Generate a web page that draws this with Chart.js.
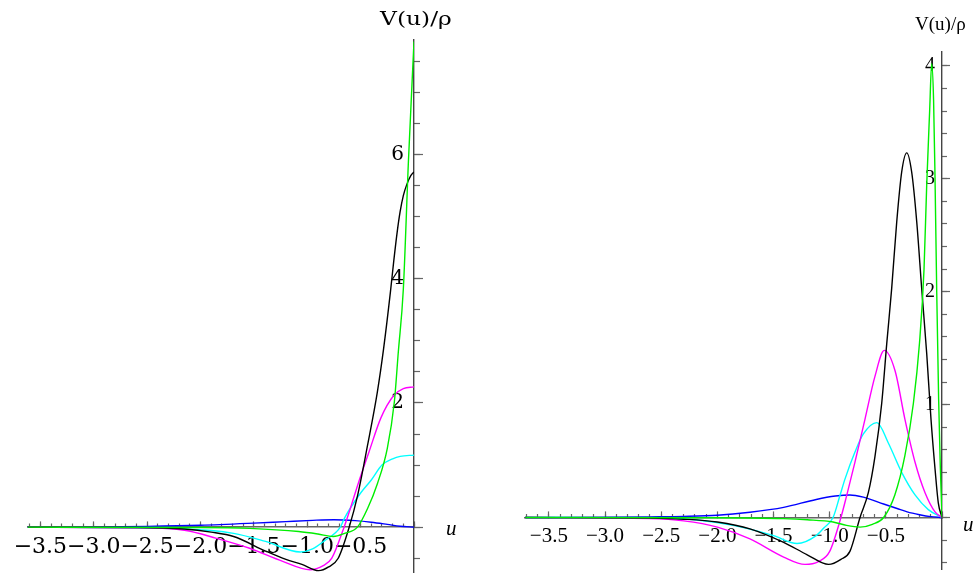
<!DOCTYPE html>
<html>
<head>
<meta charset="utf-8">
<script src="https://cdn.jsdelivr.net/npm/chart.js@4.4.0/dist/chart.umd.min.js"></script>
<style>
  body { margin: 0; background: #fff; width: 980px; height: 574px; overflow: hidden; position: relative; }
  canvas { position: absolute; top: 0; }
  #cL { left: 0; }
  #cR { left: 500px; }
  .lbl { position: absolute; white-space: nowrap; color: #000; }
  .ylab1 { left: 380px; top: 8px; font: 18px "DejaVu Serif"; transform: scaleX(1.3); transform-origin: left; }
  .ylab2 { left: 915px; top: 13px; font: 19px "Liberation Serif"; }
  .xl1 { left: 446px; top: 516px; font: italic 21px "Liberation Serif"; }
  .xl2 { left: 963px; top: 512px; font: italic 21px "Liberation Serif"; }
</style>
</head>
<body>
<canvas id="cL" width="470" height="574"></canvas>
<canvas id="cR" width="480" height="574"></canvas>
<div class="lbl ylab1">V(u)/ρ</div>
<div class="lbl ylab2">V(u)/ρ</div>
<div class="lbl xl1">u</div>
<div class="lbl xl2">u</div>
<script>
// ---- left panel, values ----
const uBlackL = [-3.62, -2.6, -2.15, -1.9, -1.69, -1.39, -1.2, -1.05, -0.894, -0.8, -0.71, -0.607, -0.527, -0.435, -0.343, -0.285, -0.22, -0.19, -0.16, -0.13, -0.1, -0.067, -0.03, 0];
const vBlackL = [0, -0.005, -0.03, -0.08, -0.15, -0.385, -0.52, -0.6, -0.7, -0.64, -0.5, 0, 0.52, 1.32, 2.18, 2.87, 3.8, 4.28, 4.72, 5.08, 5.34, 5.52, 5.66, 5.72];
const uMagentaL = [-3.62, -2.6, -2.15, -1.85, -1.54, -1.23, -0.975, -0.85, -0.77, -0.655, -0.6, -0.527, -0.42, -0.31, -0.19, -0.1, 0];
const vMagentaL = [0, -0.01, -0.05, -0.18, -0.34, -0.55, -0.685, -0.62, -0.5, 0, 0.28, 0.68, 1.22, 1.76, 2.12, 2.23, 2.26];
const uCyanL = [-3.62, -2.15, -1.69, -1.39, -1.066, -0.95, -0.84, -0.69, -0.65, -0.5, -0.4, -0.3, -0.2, -0.129, 0];
const vCyanL = [0, -0.03, -0.1, -0.23, -0.4, -0.35, -0.22, 0, 0.15, 0.55, 0.76, 1.0, 1.1, 1.14, 1.16];
const uGreenL = [-3.62, -2.0, -1.54, -1.08, -0.9, -0.756, -0.65, -0.53, -0.435, -0.343, -0.25, -0.184, -0.147, -0.1, -0.052, 0];
const vGreenL = [0, -0.005, -0.02, -0.07, -0.11, -0.15, -0.1, 0, 0.3, 0.7, 1.27, 2.02, 2.82, 3.83, 5.9, 7.82];
const uBlueL = [-3.62, -3.0, -2.5, -2.0, -1.5, -1.2, -0.95, -0.75, -0.55, -0.4, -0.25, -0.13, 0];
const vBlueL = [0, 0.004, 0.012, 0.03, 0.065, 0.09, 0.11, 0.12, 0.105, 0.08, 0.045, 0.015, 0];

// ---- right panel ----
const uBlackR = [-3.71, -2.6, -2.3, -2.0, -1.71, -1.41, -1.2, -1.01, -0.9, -0.82, -0.73, -0.656, -0.597, -0.537, -0.492, -0.448, -0.403, -0.359, -0.314, -0.27, -0.225, -0.181, -0.136, -0.098, -0.062, -0.033, 0];
const vBlackR = [0, -0.005, -0.015, -0.04, -0.1, -0.22, -0.33, -0.415, -0.37, -0.3, 0, 0.22, 0.54, 1.01, 1.54, 2.03, 2.62, 3.06, 3.23, 3.06, 2.62, 2.03, 1.45, 0.87, 0.43, 0.13, 0];
const uMagentaR = [-3.71, -2.6, -2.3, -2.0, -1.71, -1.41, -1.22, -1.1, -1.0, -0.9, -0.85, -0.775, -0.686, -0.597, -0.514, -0.418, -0.33, -0.24, -0.151, -0.062, 0];
const vMagentaR = [0, -0.01, -0.03, -0.085, -0.19, -0.35, -0.415, -0.39, -0.3, 0, 0.19, 0.49, 0.87, 1.25, 1.48, 1.3, 0.87, 0.49, 0.22, 0.05, 0];
const uCyanR = [-3.71, -2.5, -2.2, -1.86, -1.5, -1.29, -1.12, -1.05, -0.97, -0.91, -0.864, -0.775, -0.7, -0.58, -0.478, -0.359, -0.24, -0.122, 0];
const vCyanR = [0, -0.005, -0.02, -0.07, -0.16, -0.23, -0.16, -0.09, 0, 0.19, 0.34, 0.58, 0.74, 0.84, 0.66, 0.4, 0.2, 0.07, 0];
const uGreenR = [-3.71, -2.0, -1.41, -1.2, -0.97, -0.85, -0.73, -0.62, -0.52, -0.42, -0.33, -0.255, -0.2, -0.16, -0.136, -0.11, -0.092, -0.075, -0.062, -0.047, -0.03, -0.015, 0];
const vGreenR = [0, -0.002, -0.01, -0.02, -0.04, -0.07, -0.085, -0.06, 0, 0.2, 0.55, 1.01, 1.55, 2.2, 2.95, 3.6, 4.02, 3.7, 3.0, 2.0, 1.05, 0.45, 0];
const uBlueR = [-3.71, -3.0, -2.6, -2.3, -2.0, -1.71, -1.41, -1.12, -0.95, -0.82, -0.7, -0.52, -0.4, -0.31, -0.2, -0.1, 0];
const vBlueR = [0, 0.002, 0.006, 0.01, 0.02, 0.047, 0.09, 0.16, 0.19, 0.2, 0.18, 0.12, 0.08, 0.05, 0.025, 0.008, 0];

const colors = { black: '#000000', magenta: '#ff00ff', cyan: '#00ffff', green: '#00ee00', blue: '#0000ff' };

function pts(us, vs) { return us.map((u, i) => ({ x: u, y: vs[i] })); }

function line(us, vs, color) {
  return {
    data: pts(us, vs), borderColor: color, borderWidth: 1.4,
    showLine: true, pointRadius: 0, cubicInterpolationMode: 'monotone', fill: false,
    xAxisID: 'x', yAxisID: 'y'
  };
}

function fmt(v) {
  if (Math.abs(v) < 1e-9) return '';
  return (v < 0 ? '\u2212' : '') + Math.abs(v).toFixed(1);
}

function makeChart(id, cfg) {
  const axisCol = '#666';
  new Chart(document.getElementById(id).getContext('2d'), {
    type: 'scatter',
    data: { datasets: cfg.datasets },
    options: {
      responsive: false, animation: false,
      layout: { padding: cfg.pad },
      plugins: { legend: { display: false }, tooltip: { enabled: false } },
      scales: {
        x: {
          type: 'linear', position: { y: 0 }, min: cfg.xmin, max: 0,
          grid: { drawOnChartArea: false, tickLength: -cfg.xMajor, tickColor: axisCol, tickWidth: 1.2 },
          border: { color: axisCol, width: 1.4 },
          ticks: { stepSize: 0.5, includeBounds: false, autoSkip: false, maxRotation: 0,
                   padding: cfg.xPad, color: '#000', font: cfg.xFont, callback: fmt }
        },
        x2: {
          axis: 'x', type: 'linear', position: { y: 0 }, min: cfg.xmin, max: 0,
          grid: { drawOnChartArea: false, tickLength: -cfg.xMinor, tickColor: axisCol, tickWidth: 1.2 },
          border: { display: false },
          ticks: { stepSize: 0.1, includeBounds: false, display: false }
        },
        y: {
          type: 'linear', position: 'right', min: cfg.ymin, max: cfg.ymax,
          afterFit: s => { s.width = 10; },
          grid: { drawOnChartArea: false, tickLength: cfg.yMajor, tickColor: axisCol, tickWidth: 1.2 },
          border: { color: '#444', width: 1.4 },
          ticks: { stepSize: cfg.yStep, includeBounds: false, mirror: true, padding: cfg.yPad,
                   color: '#000', font: cfg.yFont, callback: v => (v === 0 ? '' : String(v)) }
        },
        y2: {
          axis: 'y', type: 'linear', position: { x: 0 }, min: cfg.ymin, max: cfg.ymax,
          grid: { drawOnChartArea: false, tickLength: -cfg.yMinor, tickColor: axisCol, tickWidth: 1.2 },
          border: { display: false },
          ticks: { stepSize: cfg.yMinorStep, includeBounds: false, display: false }
        }
      }
    }
  });
}

makeChart('cL', {
  datasets: [
    line(uGreenL, vGreenL, colors.green),
    line(uBlackL, vBlackL, colors.black),
    line(uMagentaL, vMagentaL, colors.magenta),
    line(uCyanL, vCyanL, colors.cyan),
    line(uBlueL, vBlueL, colors.blue)
  ],
  pad: { left: 20, right: 46, top: 40, bottom: 0 },
  xmin: -3.621, ymin: -0.722, ymax: 7.845,
  xMajor: 6, xMinor: 3.5, xPad: 13, xFont: { family: 'DejaVu Serif', size: 22 },
  yStep: 2, yMinorStep: 0.5, yMajor: 9, yMinor: 6, yPad: -10, yFont: { family: 'DejaVu Serif', size: 20 }
});

makeChart('cR', {
  datasets: [
    line(uGreenR, vGreenR, colors.green),
    line(uBlackR, vBlackR, colors.black),
    line(uMagentaR, vMagentaR, colors.magenta),
    line(uCyanR, vCyanR, colors.cyan),
    line(uBlueR, vBlueR, colors.blue)
  ],
  pad: { left: 25, right: 28, top: 52, bottom: 0 },
  xmin: -3.713, ymin: -0.456, ymax: 4.123,
  xMajor: 7, xMinor: 4, xPad: 13, xFont: { family: 'Liberation Serif', size: 21 },
  yStep: 1, yMinorStep: 0.2, yMajor: 8, yMinor: 5, yPad: -7, yFont: { family: 'Liberation Serif', size: 20 }
});
</script>
</body>
</html>
